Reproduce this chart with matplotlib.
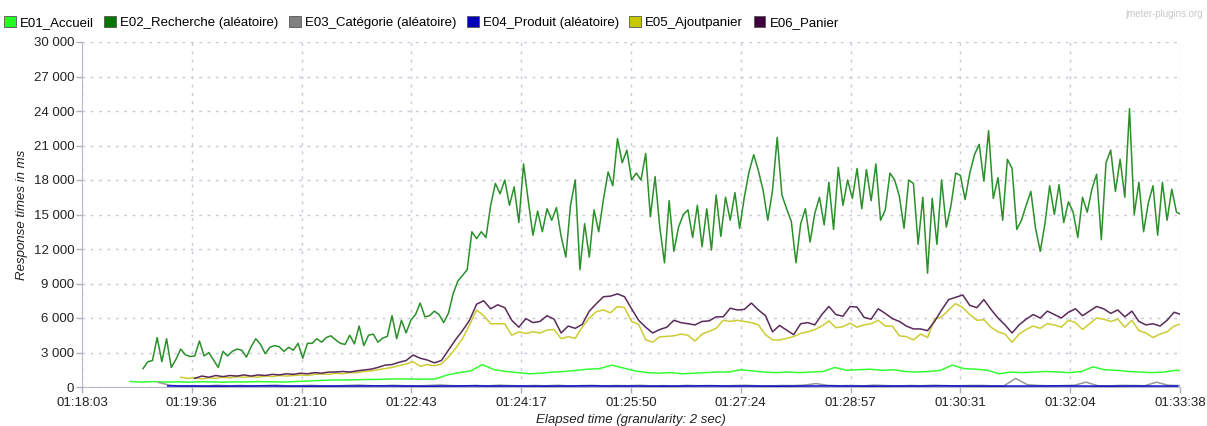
import numpy as np
import matplotlib
matplotlib.use("Agg")
import matplotlib.pyplot as plt
from matplotlib.patches import Patch
from matplotlib.ticker import FuncFormatter

plt.rcParams['font.family'] = ['Liberation Sans', 'DejaVu Sans']

# time axis: seconds elapsed since 01:18:03
duration_s = 935
tick_labels = ["01:18:03", "01:19:36", "01:21:10", "01:22:43", "01:24:17", "01:25:50",
               "01:27:24", "01:28:57", "01:30:31", "01:32:04", "01:33:38"]

names = ["E01_Accueil", "E02_Recherche (aléatoire)", "E03_Catégorie (aléatoire)",
         "E04_Produit (aléatoire)", "E05_Ajoutpanier", "E06_Panier"]
legend_colors = ["#22ff22", "#007700", "#808080", "#0000bb", "#c8c800", "#400040"]
line_colors = ["#33ff33", "#2a902a", "#999999", "#0000cc", "#cccc33", "#5a2a5a"]

# each series: first sample (s), sample step (s), response times (ms)
e01_start, e01_step = 41, 10
e01_ms = [480, 430, 470, 430, 450, 420, 460, 440, 420, 450, 440, 470, 450, 430, 470, 520,
          560, 600, 620, 620, 650, 660, 690, 700, 690, 680, 700, 1050, 1250, 1400, 1950,
          1500, 1350, 1250, 1150, 1200, 1300, 1350, 1450, 1550, 1600, 1900, 1650, 1400,
          1250, 1200, 1250, 1150, 1200, 1250, 1300, 1300, 1500, 1400, 1300, 1250, 1300,
          1250, 1300, 1350, 1700, 1450, 1500, 1550, 1450, 1500, 1350, 1300, 1350, 1450,
          1900, 1600, 1550, 1450, 1150, 1300, 1250, 1300, 1350, 1300, 1250, 1350, 1750,
          1500, 1450, 1350, 1300, 1250, 1300, 1450, 1400]

e02_start, e02_step = 52, 4
e02_ms = [1600, 2200, 2300, 4300, 2200, 4200, 1700, 2400, 3300, 2800,
          2650, 2700, 4000, 2700, 3000, 2350, 1700, 3100, 2700, 3100,
          3300, 3200, 2600, 3500, 4200, 3700, 2900, 3450, 3600, 3500,
          3100, 3450, 3200, 3800, 2500, 3800, 3800, 4200, 3900, 4300,
          4450, 4100, 3800, 3700, 4500, 3750, 5300, 3600, 4500, 4600,
          3900, 4250, 4400, 6200, 4200, 5800, 4700, 5800, 6300, 7300,
          6100, 6200, 6600, 6300, 5600, 6400, 8100, 9200, 9700, 10200,
          13500, 12900, 13500, 13000, 15800, 17700, 16800, 18000, 15800, 17400,
          14300, 19400, 16200, 13200, 15300, 13500, 15500, 14500, 15600, 13100,
          11300, 15800, 18000, 10200, 14200, 11300, 15400, 13500, 16300, 18700,
          17500, 21600, 19500, 20600, 18000, 18600, 18000, 20300, 14800, 18300,
          13900, 10800, 16200, 11800, 13900, 15000, 15400, 13000, 15800, 12200,
          15500, 11900, 16700, 13100, 16500, 14500, 16900, 13800, 16500, 18700,
          20200, 18800, 17100, 14500, 17100, 21700, 16700, 15500, 14400, 10800,
          14200, 15500, 12600, 15100, 16500, 14100, 17800, 13700, 19100, 15800,
          18000, 16400, 19000, 15500, 18900, 16200, 19400, 14500, 15400, 18600,
          18000, 16600, 13800, 18000, 17700, 12400, 16500, 9900, 16400, 12400,
          18000, 13900, 15800, 18600, 18400, 16300, 18600, 20200, 21100, 17900,
          22300, 16400, 18200, 14500, 19800, 19000, 13700, 14500, 15800, 17000,
          13800, 11800, 14200, 17500, 15000, 17600, 14300, 16100, 15200, 13000,
          16500, 15200, 17200, 18500, 12800, 19500, 20600, 17000, 19800, 16500,
          24200, 15000, 17800, 13500, 16000, 17500, 13200, 17800, 14500, 17200,
          15200, 15000]

e03_start, e03_step = 65, 10
e03_ms = [400, 150, 80, 120, 90, 150, 100, 130, 80, 120,
          160, 90, 110, 140, 100, 80, 130, 170, 120, 100,
          150, 110, 90, 130, 180, 120, 100, 140, 90, 160,
          120, 100, 130, 110, 150, 90, 120, 140, 100, 130,
          110, 150, 100, 120, 90, 140, 110, 130, 100, 120,
          150, 110, 90, 130, 120, 160, 300, 140, 110, 130,
          100, 160, 120, 90, 130, 110, 150, 120, 100, 130,
          140, 110, 90, 750, 200, 130, 100, 120, 150, 420,
          110, 100, 140, 130, 110, 420, 150, 120]

e04_start, e04_step = 73, 20
e04_ms = [90, 80, 70, 80, 90, 80, 70, 80, 80, 90, 80, 70, 80, 90, 80, 80, 70, 80, 90, 80,
          80, 70, 80, 90, 80, 80, 70, 80, 90, 80, 70, 80, 80, 90, 80, 70, 80, 80, 90, 80,
          70, 80, 80, 80]

e05_start, e05_step = 84, 6
e05_ms = [850, 750, 800, 700, 800, 750, 850, 800, 900, 850,
          900, 850, 950, 900, 1000, 950, 1000, 1050, 1000, 1100,
          1130, 1100, 1200, 1150, 1250, 1250, 1350, 1400, 1500, 1600,
          1700, 1850, 2000, 2200, 1800, 1950, 1850, 2000, 2600, 3350,
          4200, 5400, 6700, 6200, 5500, 5500, 5500, 4500, 4800, 4650,
          4800, 4700, 4950, 5000, 4200, 4380, 4230, 5200, 6000, 6550,
          6700, 6450, 7000, 6900, 5700, 5450, 4100, 3900, 4370, 4400,
          4450, 4600, 4500, 4000, 4600, 4850, 5100, 5800, 5700, 5800,
          5700, 5600, 5400, 4550, 4100, 4090, 4230, 4380, 4660, 4800,
          5000, 5300, 5750, 5150, 5250, 5550, 5200, 5400, 5500, 5800,
          5300, 5300, 4450, 4380, 4090, 4600, 4300, 5900, 6100, 6700,
          7250, 6900, 6300, 5800, 5850, 5200, 4800, 4600, 3900, 4600,
          5000, 5300, 5100, 5500, 5400, 5200, 5800, 5600, 5000, 5500,
          6000, 5900, 5700, 5900, 5200, 5800, 4900, 4700, 4300, 4600,
          4800, 5300, 5500]

e06_start, e06_step = 96, 6
e06_ms = [750, 950, 850, 1000, 900, 1000, 950, 1050, 950, 1050,
          1000, 1100, 1050, 1150, 1100, 1200, 1150, 1250, 1200, 1300,
          1300, 1350, 1300, 1400, 1480, 1550, 1700, 1900, 1950, 2150,
          2300, 2780, 2500, 2350, 2100, 2300, 3200, 4100, 4900, 5800,
          7200, 7500, 6800, 7150, 6900, 5800, 5200, 5950, 5600, 5700,
          6200, 5900, 4700, 5300, 5100, 5450, 6600, 7250, 7850, 7900,
          8100, 7850, 6800, 5800, 5200, 4700, 5000, 5200, 5800, 5600,
          5500, 5400, 5700, 5750, 6100, 6100, 6850, 6700, 6750, 7300,
          6700, 6200, 4800, 5350, 4950, 4550, 5500, 5600, 5400, 6300,
          7000, 6300, 6150, 7000, 6950, 6050, 5900, 6800, 6400, 5950,
          5700, 5300, 5050, 5050, 4900, 5700, 6700, 7600, 7800, 8000,
          7100, 6900, 7600, 6750, 6000, 5400, 4700, 5400, 5900, 6300,
          6000, 6600, 6300, 6000, 6500, 6800, 6200, 6600, 7000, 6800,
          6400, 6700, 6100, 6600, 5700, 5400, 5500, 5300, 5800, 6500,
          6300]

series = [(e01_start, e01_step, e01_ms), (e02_start, e02_step, e02_ms),
          (e03_start, e03_step, e03_ms), (e04_start, e04_step, e04_ms),
          (e05_start, e05_step, e05_ms), (e06_start, e06_step, e06_ms)]

fig = plt.figure(figsize=(12.07, 4.26), dpi=100)
ax = fig.add_axes([82 / 1207, 39 / 426, 1098 / 1207, 345 / 426])

for (start, step, vals), col in zip(series, line_colors):
    t = start + step * np.arange(len(vals))
    ax.plot(t, vals, color=col, lw=1.1, solid_joinstyle='round')

ax.set_xlim(0, duration_s)
ax.set_ylim(0, 30000)
ax.set_xticks(np.linspace(0, duration_s, len(tick_labels)))
ax.set_xticklabels(tick_labels)
ax.set_yticks(np.arange(0, 30001, 3000))
ax.yaxis.set_major_formatter(FuncFormatter(lambda v, p: f"{int(v):,}".replace(",", " ")))
ax.tick_params(labelsize=9.5, colors="#b0b0c0", labelcolor="#222222", length=4, width=1)
ax.tick_params(axis="y", pad=1.5)

ax.grid(True, color="#c8c8d8", linestyle=(0, (2, 4)), linewidth=1)
ax.set_axisbelow(True)
for s in ["top", "right"]:
    ax.spines[s].set_visible(False)
for s in ["left", "bottom"]:
    ax.spines[s].set_color("#b8b8c8")

ax.set_ylabel("Response times in ms", fontsize=9.5, style="italic", color="#222222")
ax.set_xlabel("Elapsed time (granularity: 2 sec)", fontsize=9.5, style="italic",
              color="#222222", labelpad=3)

handles = [Patch(facecolor=c, edgecolor="#555555", linewidth=0.6) for c in legend_colors]
fig.legend(handles, names, loc="upper left", bbox_to_anchor=(4 / 1207, 1 - 16 / 426),
           ncol=6, frameon=False, fontsize=9.5, handlelength=0.9, handleheight=0.9,
           handletextpad=0.3, columnspacing=0.8, borderaxespad=0, borderpad=0)

fig.text(1203 / 1207, 1 - 14 / 426, "jmeter-plugins.org", ha="right", va="center",
         fontsize=7, color="#c8c8c8")

fig.savefig("out.png", dpi=100, facecolor="white")
